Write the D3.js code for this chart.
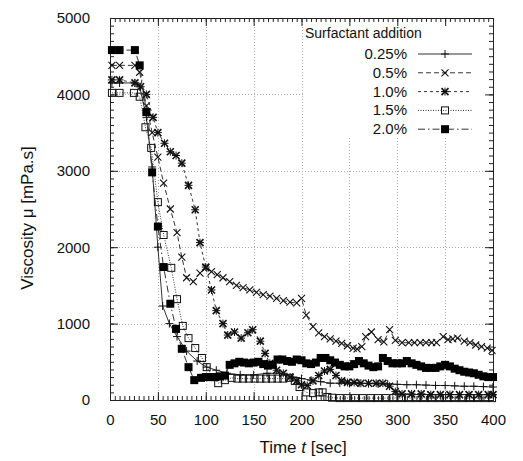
<!DOCTYPE html>
<html>
<head>
<meta charset="utf-8">
<script src="https://cdn.jsdelivr.net/npm/d3@7"></script>
<style>
body { margin: 0; background: #fff; }
text { font-family: "Liberation Sans", Arial, sans-serif; fill: #111; }
</style>
</head>
<body>
<div id="chart"></div>
<script>
// surfactant concentrations (legend labels)
var seriesNames = ["0.25%", "0.5%", "1.0%", "1.5%", "2.0%"];

// time [sec] and viscosity [mPa.s] for each series
var t025 = [2, 10, 26, 31, 38, 44, 50, 55, 62, 70, 80, 91, 101, 111, 122, 136, 150, 164, 177, 191, 200, 210, 220, 230, 240, 250, 260, 270, 280, 290, 300, 310, 320, 330, 340, 350, 360, 370, 380, 390, 400];
var v025 = [4150, 4150, 4150, 4100, 3700, 3050, 2000, 1230, 1000, 830, 640, 510, 430, 390, 350, 330, 330, 350, 350, 300, 280, 260, 240, 220, 220, 220, 220, 215, 210, 210, 205, 200, 200, 195, 190, 190, 185, 180, 180, 175, 170];

var t05 = [2, 10, 26, 31, 38, 44, 50, 56, 63, 70, 75, 80, 87, 94, 100, 106, 112, 118, 125, 132, 139, 146, 153, 160, 167, 174, 181, 188, 195, 200, 205, 212, 218, 224, 230, 236, 242, 248, 254, 258, 263, 267, 273, 280, 286, 292, 298, 305, 312, 318, 324, 330, 336, 341, 348, 353, 358, 363, 370, 376, 382, 388, 394, 399];
var v05 = [4380, 4380, 4380, 4290, 3850, 3500, 3180, 2840, 2500, 2190, 1870, 1600, 1550, 1660, 1730, 1680, 1640, 1600, 1550, 1500, 1470, 1440, 1410, 1380, 1360, 1330, 1300, 1280, 1270, 1330, 1110, 960, 880, 830, 800, 770, 740, 710, 680, 670, 700, 830, 890, 790, 760, 920, 780, 750, 750, 750, 750, 750, 750, 750, 830, 790, 800, 810, 770, 750, 720, 700, 680, 650];

var t10 = [2, 10, 26, 32, 38, 45, 50, 57, 63, 69, 75, 82, 89, 94, 100, 106, 111, 118, 123, 130, 137, 144, 149, 157, 162, 167, 174, 181, 188, 195, 200, 206, 212, 218, 224, 230, 236, 242, 248, 255, 262, 270, 278, 285, 292, 298, 305, 315, 325, 335, 345, 355, 365, 375, 385, 395, 400];
var v10 = [4190, 4190, 4150, 4100, 4000, 3700, 3500, 3360, 3250, 3200, 3100, 2810, 2490, 2060, 1740, 1440, 1170, 1000, 850, 890, 810, 880, 920, 770, 610, 480, 390, 350, 300, 250, 200, 190, 250, 320, 380, 400, 320, 250, 230, 230, 220, 220, 220, 220, 180, 110, 80, 80, 80, 70, 70, 70, 70, 70, 70, 70, 70];

var t15 = [2, 10, 25, 31, 37, 43, 50, 56, 64, 70, 76, 82, 89, 96, 101, 108, 113, 120, 127, 133, 139, 145, 151, 157, 163, 169, 175, 181, 187, 193, 198, 205, 212, 218, 222, 227, 232, 240, 248, 256, 264, 272, 280, 288, 296, 304, 312, 320, 328, 336, 344, 352, 360, 368, 376, 384, 392, 399];
var v15 = [4020, 4020, 4020, 3970, 3570, 3300, 2590, 2160, 1730, 1320, 970, 810, 680, 550, 430, 300, 220, 260, 290, 280, 280, 280, 280, 280, 280, 280, 280, 280, 290, 250, 170, 100, 90, 100, 100, 40, 30, 25, 25, 25, 25, 25, 25, 25, 25, 25, 25, 25, 25, 25, 25, 25, 25, 25, 25, 25, 25, 25];

var t20 = [2, 10, 26, 31, 38, 44, 50, 56, 63, 69, 75, 82, 88, 95, 100, 105, 110, 115, 120, 125, 130, 135, 140, 145, 150, 155, 160, 165, 170, 175, 180, 185, 190, 195, 200, 205, 210, 215, 220, 225, 230, 235, 240, 245, 250, 255, 260, 265, 270, 275, 280, 285, 290, 295, 300, 305, 310, 315, 320, 325, 330, 335, 340, 345, 350, 355, 360, 365, 370, 375, 380, 385, 390, 395, 400];
var v20 = [4580, 4580, 4580, 4380, 3770, 2980, 2270, 1740, 1260, 930, 670, 430, 260, 290, 300, 300, 300, 310, 320, 460, 480, 500, 490, 480, 490, 500, 470, 450, 460, 530, 530, 510, 500, 530, 520, 480, 470, 490, 550, 550, 520, 490, 460, 440, 440, 470, 510, 480, 450, 430, 440, 550, 510, 480, 480, 480, 510, 480, 460, 440, 420, 420, 420, 440, 460, 440, 410, 390, 370, 360, 350, 330, 310, 300, 300];

// axis ticks
var xTicks = [0, 50, 100, 150, 200, 250, 300, 350, 400];
var yTicks = [0, 1000, 2000, 3000, 4000, 5000];

function init() {
    var w = 523;
    var h = 461;
    var left = 110, right = 493, top = 18, bottom = 400;

    var svg = d3.select("#chart")
                .append("svg")
                .attr("width", w)
                .attr("height", h);

    var x = d3.scaleLinear().domain([0, 400]).range([left, right]);
    var y = d3.scaleLinear().domain([0, 5000]).range([bottom, top]);

    //Grid
    var grid = svg.append("g").attr("stroke", "#aaa").attr("stroke-width", 1).attr("stroke-dasharray", "1,2");
    grid.selectAll(".gx")
        .data(xTicks.slice(1, -1))
        .enter()
        .append("line")
        .attr("x1", function(d){ return Math.round(x(d)) + 0.5; })
        .attr("x2", function(d){ return Math.round(x(d)) + 0.5; })
        .attr("y1", top)
        .attr("y2", bottom);
    grid.selectAll(".gy")
        .data(yTicks.slice(1, -1))
        .enter()
        .append("line")
        .attr("y1", function(d){ return Math.round(y(d)) + 0.5; })
        .attr("y2", function(d){ return Math.round(y(d)) + 0.5; })
        .attr("x1", left)
        .attr("x2", right);

    // legend background covers the grid
    svg.append("rect")
        .attr("x", 303).attr("y", top + 1)
        .attr("width", right - 304).attr("height", 117)
        .attr("fill", "#fff");

    //Axes: major and minor ticks, inward, mirrored on all sides
    var minorX = d3.range(0, 401, 5);
    var minorY = d3.range(0, 5001, 100);
    svg.append("g").attr("transform", "translate(0," + bottom + ")")
        .call(d3.axisBottom(x).tickValues(minorX).tickSize(-4).tickFormat(""));
    svg.append("g").attr("transform", "translate(0," + bottom + ")")
        .call(d3.axisBottom(x).tickValues(xTicks).tickSize(-8).tickPadding(14).tickFormat(d3.format("d")))
        .attr("class", "xaxis");
    svg.append("g").attr("transform", "translate(0," + top + ")")
        .call(d3.axisTop(x).tickValues(minorX).tickSize(-4).tickFormat(""));
    svg.append("g").attr("transform", "translate(0," + top + ")")
        .call(d3.axisTop(x).tickValues(xTicks).tickSize(-8).tickFormat(""));
    svg.append("g").attr("transform", "translate(" + left + ",0)")
        .call(d3.axisLeft(y).tickValues(minorY).tickSize(-4).tickFormat(""));
    svg.append("g").attr("transform", "translate(" + left + ",0)")
        .call(d3.axisLeft(y).tickValues(yTicks).tickSize(-8).tickPadding(20).tickFormat(d3.format("d")))
        .attr("class", "yaxis");
    svg.append("g").attr("transform", "translate(" + right + ",0)")
        .call(d3.axisRight(y).tickValues(minorY).tickSize(-4).tickFormat(""));
    svg.append("g").attr("transform", "translate(" + right + ",0)")
        .call(d3.axisRight(y).tickValues(yTicks).tickSize(-8).tickFormat(""));
    svg.selectAll(".domain").attr("stroke", "#222");
    svg.selectAll(".tick line").attr("stroke", "#222");
    svg.selectAll(".xaxis text, .yaxis text")
        .style("font-family", "'Liberation Sans', Arial, sans-serif")
        .style("font-size", "15px")
        .attr("fill", "#111");

    //Titles
    var xt = svg.append("text")
        .attr("x", 303).attr("y", 453)
        .attr("text-anchor", "middle")
        .style("font-size", "17px");
    xt.append("tspan").text("Time ");
    xt.append("tspan").style("font-style", "italic").text("t");
    xt.append("tspan").text(" [sec]");
    svg.append("text")
        .attr("transform", "translate(33,218) rotate(-90)")
        .attr("text-anchor", "middle")
        .style("font-size", "17px")
        .text("Viscosity  \u03bc [mPa.s]");

    //Series
    var series = [
        { name: seriesNames[0], t: t025, v: v025, dash: null, mark: "plus" },
        { name: seriesNames[1], t: t05, v: v05, dash: "5,3", mark: "cross" },
        { name: seriesNames[2], t: t10, v: v10, dash: "3,3", mark: "star" },
        { name: seriesNames[3], t: t15, v: v15, dash: "1,1.5", mark: "box" },
        { name: seriesNames[4], t: t20, v: v20, dash: "7,3,1.5,3", mark: "fbox" }
    ];

    function drawMark(g, type, cx, cy) {
        var s = 3.5;
        if (type == "plus" || type == "star") {
            g.append("path").attr("d", "M" + (cx - s - 0.5) + "," + cy + "h" + (2 * s + 1) + "M" + cx + "," + (cy - s - 0.5) + "v" + (2 * s + 1))
                .attr("stroke", "#111").attr("stroke-width", 1).attr("fill", "none");
        }
        if (type == "cross" || type == "star") {
            g.append("path").attr("d", "M" + (cx - s) + "," + (cy - s) + "l" + 2 * s + "," + 2 * s + "M" + (cx - s) + "," + (cy + s) + "l" + 2 * s + "," + (-2 * s))
                .attr("stroke", "#111").attr("stroke-width", type == "star" ? 1.6 : 1.1).attr("fill", "none");
        }
        if (type == "box") {
            g.append("rect").attr("x", cx - s).attr("y", cy - s).attr("width", 2 * s).attr("height", 2 * s)
                .attr("fill", "none").attr("stroke", "#111").attr("stroke-width", 1);
        }
        if (type == "fbox") {
            g.append("rect").attr("x", cx - s - 0.5).attr("y", cy - s - 0.5).attr("width", 2 * s + 1).attr("height", 2 * s + 1)
                .attr("fill", "#000");
        }
    }

    var line = d3.line()
        .x(function(d){ return x(d[0]); })
        .y(function(d){ return y(d[1]); });

    series.forEach(function(s) {
        var pts = s.t.map(function(t, i){ return [t, s.v[i]]; });
        svg.append("path")
            .datum(pts)
            .attr("d", line)
            .attr("fill", "none")
            .attr("stroke", "#333")
            .attr("stroke-width", 1)
            .attr("stroke-dasharray", s.dash);
        var g = svg.append("g");
        pts.forEach(function(p){ drawMark(g, s.mark, x(p[0]), y(p[1])); });
    });

    //Legend
    svg.append("text")
        .attr("x", 305).attr("y", 38)
        .style("font-size", "14px")
        .text("Surfactant addition");
    series.forEach(function(s, i) {
        var ly = 54 + i * 18.8;
        svg.append("text")
            .attr("x", 407).attr("y", ly + 5)
            .attr("text-anchor", "end")
            .style("font-size", "15px")
            .text(s.name);
        svg.append("line")
            .attr("x1", 418).attr("x2", 472)
            .attr("y1", ly).attr("y2", ly)
            .attr("stroke", "#333")
            .attr("stroke-dasharray", s.dash);
        drawMark(svg.append("g"), s.mark, 445, ly);
    });
}
window.onload = init;
</script>
</body>
</html>
